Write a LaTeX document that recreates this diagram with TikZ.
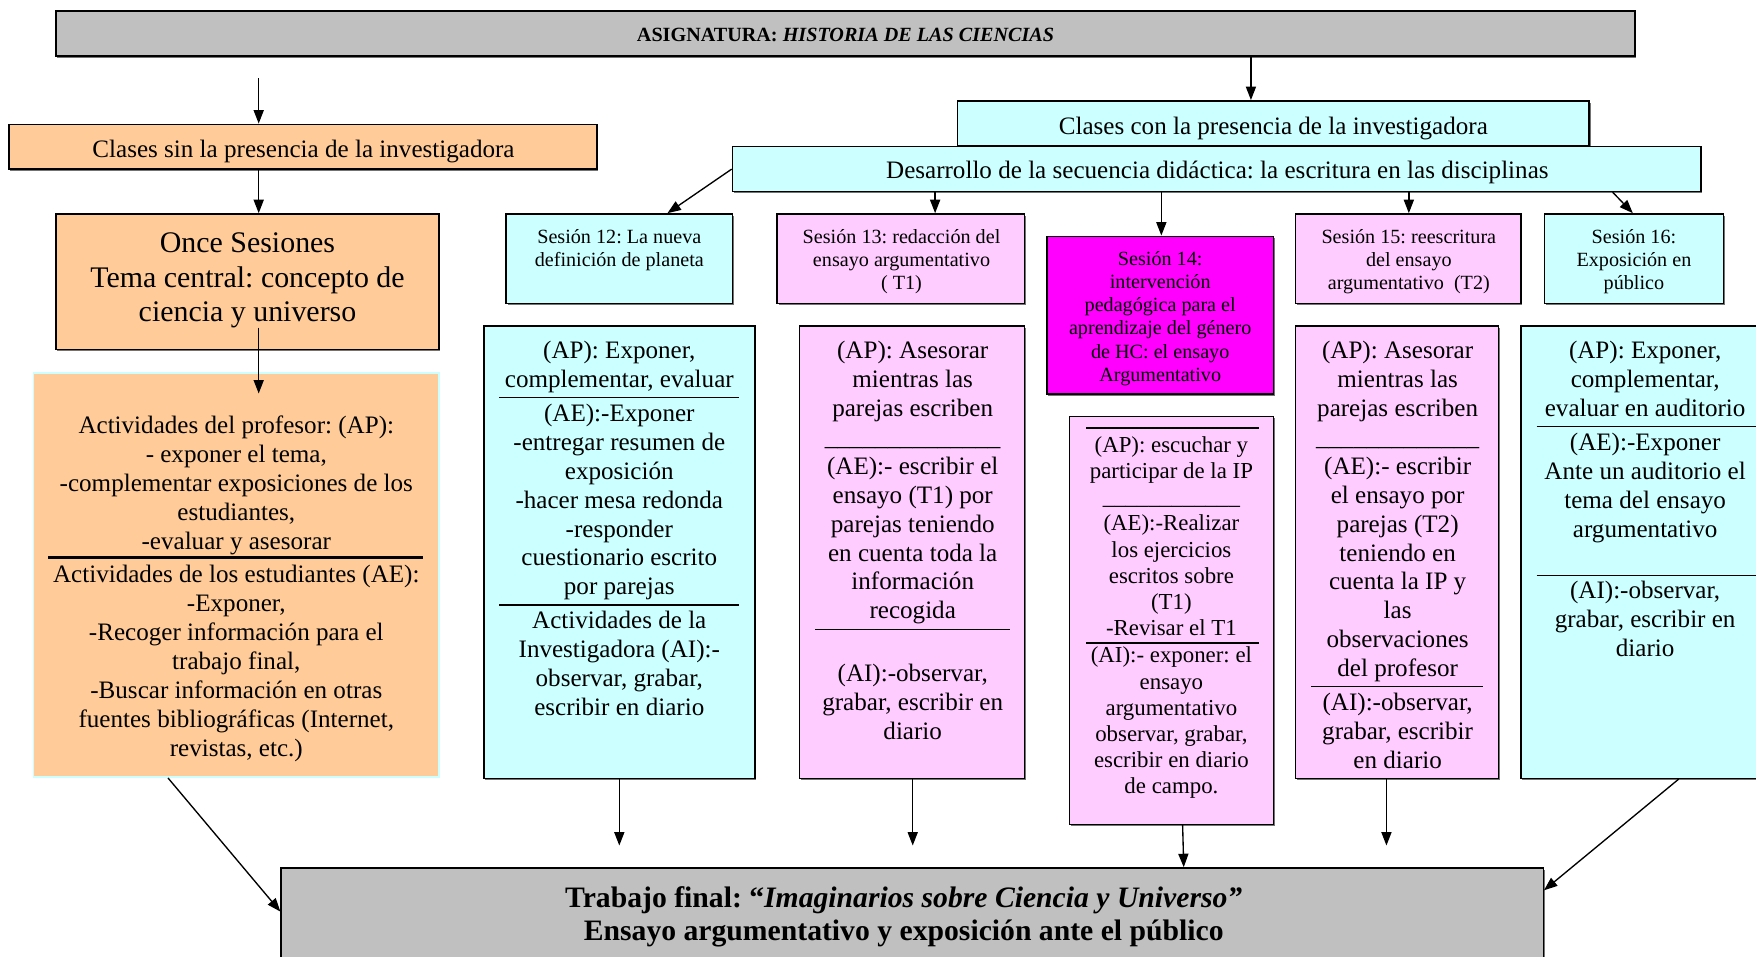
\documentclass[tikz,border=0pt]{standalone}
\usepackage{fontspec}
\setmainfont{Liberation Serif}
\usetikzlibrary{arrows.meta,calc,shadows}
\frenchspacing

\definecolor{peach}{HTML}{FFCC99}
\definecolor{lcyan}{HTML}{CCFFFF}
\definecolor{lpink}{HTML}{FFCCFF}
\definecolor{magen}{HTML}{FF00FF}
\definecolor{lgray}{HTML}{C0C0C0}

% font sizes used in the chart
\newcommand{\fbody}{\fontsize{22.4}{25.8}\selectfont}
\newcommand{\fsmall}{\fontsize{18}{20.6}\selectfont}
\newcommand{\fmid}{\fontsize{20.4}{23.4}\selectfont}
\newcommand{\fbig}{\fontsize{26.7}{31}\selectfont}
\newcommand{\ffinal}{\bfseries\fontsize{26.5}{30}\selectfont}
\newcommand{\ftitle}{\bfseries\fontsize{18}{21}\selectfont}

% rectangle node given by its two corners: style, name, x1, y1, x2, y2
\newcommand{\boxnode}[6]{%
  \pgfmathsetmacro\bxW{#5-#3}%
  \pgfmathsetmacro\bxH{#6-#4}%
  \pgfmathsetmacro\bxX{(#3+#5)/2}%
  \pgfmathsetmacro\bxY{(#4+#6)/2}%
  \node[#1, minimum width=\bxW pt, minimum height=\bxH pt] (#2) at (\bxX,\bxY) {};}

\newcommand{\uline}[1]{\foreach \i in {1,...,#1}{\_}}

\begin{document}
\begin{tikzpicture}[x=1pt,y=-1pt,
  box/.style={draw=black, line width=1.3pt, inner sep=0pt,
    drop shadow={shadow xshift=1.2pt, shadow yshift=-1.6pt, fill=black!55, opacity=1}},
  plainbox/.style={draw=lcyan, line width=1.3pt, inner sep=0pt},
  txt/.style={anchor=north, align=center, inner sep=0pt, yshift=-2pt},
  rule/.style={line width=1.4pt},
  arr/.style={line width=1.2pt, -{Triangle[length=12pt,width=9pt]}}]

\useasboundingbox (0,0) rectangle (1568,854);

% ---- header boxes ----
\boxnode{box, fill=lgray}{title}{50}{10}{1460}{50}
\node[font=\ftitle, inner sep=0pt] (titletxt) at (755,31) {ASIGNATURA: \textit{HISTORIA DE LAS CIENCIAS}};

\boxnode{box, fill=peach}{clsin}{8}{111}{533}{151}
\node[txt, font=\fbody] (clsintxt) at (271,120) {\strut Clases sin la presencia de la investigadora};

\boxnode{box, fill=lcyan}{clcon}{855}{90}{1419}{130}
\node[txt, font=\fbody] (clcontxt) at (1137,100) {\strut Clases con la presencia de la investigadora};

\boxnode{box, fill=lcyan}{desa}{654}{131}{1519}{171}
\node[txt, font=\fbody] (desatxt) at (1087,139) {\strut Desarrollo de la secuencia didáctica: la escritura en las disciplinas};

% ---- left column ----
\boxnode{box, fill=peach}{once}{50}{191}{392}{312}
\node[txt, font=\fbig] (oncetxt) at (221,201.5) {\strut Once Sesiones\\Tema central: concepto de\\ciencia y universo};

\boxnode{plainbox, fill=peach}{act}{30}{333}{392}{694}
\node[txt, font=\fbody] (actap) at (211,367) {\strut Actividades del profesor: (AP):\\- exponer el tema,\\ -complementar exposiciones de los\\estudiantes,\\-evaluar y asesorar};
\draw[line width=3pt] (43,498) -- (378,498);
\node[txt, font=\fbody] (actae) at (211,500) {\strut Actividades de los estudiantes (AE):\\-Exponer,\\-Recoger información para el\\trabajo final,\\-Buscar información en otras\\fuentes bibliográficas (Internet,\\revistas, etc.)};

% ---- session headers ----
\boxnode{box, fill=lcyan}{s12}{452}{191}{654}{271}
\node[txt, font=\fsmall] (s12txt) at (553,200.7) {\strut Sesión 12: La nueva\\definición de planeta};

\boxnode{box, fill=lpink}{s13}{694}{191}{915}{271}
\node[txt, font=\fsmall] (s13txt) at (805,200.7) {\strut Sesión 13: redacción del\\ensayo argumentativo\\( T1)};

\boxnode{box, fill=magen}{s14}{935}{211}{1137}{352}
\node[txt, font=\fsmall] (s14txt) at (1036,220.7) {\strut Sesión 14:\\intervención\\pedagógica para el\\aprendizaje del género\\de HC: el ensayo\\Argumentativo};

\boxnode{box, fill=lpink}{s15}{1157}{191}{1358}{271}
\node[txt, font=\fsmall] (s15txt) at (1258,200.7) {\strut Sesión 15: reescritura\\del ensayo\\argumentativo~~(T2)};

\boxnode{box, fill=lcyan}{s16}{1379}{191}{1539}{271}
\node[txt, font=\fsmall] (s16txt) at (1459,200.7) {\strut Sesión 16:\\Exposición en\\público};

% ---- session activities ----
\boxnode{box, fill=lcyan}{a12}{432}{291}{674}{695}
\node[txt, font=\fbody] (a12ap) at (553,300.1) {\strut (AP): Exponer,\\complementar, evaluar};
\draw[rule] (446,355) -- (660,355);
\node[txt, font=\fbody] (a12ae) at (553,356.1) {\strut (AE):-Exponer\\-entregar resumen de\\exposición\\-hacer mesa redonda\\-responder\\cuestionario escrito\\por parejas};
\draw[rule] (446,540) -- (660,540);
\node[txt, font=\fbody] (a12ai) at (553,541.1) {\strut Actividades de la\\Investigadora (AI):-\\observar, grabar,\\escribir en diario};

\boxnode{box, fill=lpink}{a13}{714}{291}{915}{695}
\node[txt, font=\fbody] (a13ap) at (815,300.1) {\strut (AP): Asesorar\\mientras las\\parejas escriben\\\uline{14}\\(AE):- escribir el\\ensayo (T1) por\\parejas teniendo\\en cuenta toda la\\información\\recogida};
\draw[rule] (728,562) -- (902,562);
\node[txt, font=\fbody] (a13ai) at (815,588.1) {\strut (AI):-observar,\\grabar, escribir en\\diario};

\boxnode{box, fill=lpink}{a14}{955}{372}{1137}{736}
\draw[rule] (970,382) -- (1124,382);
\node[txt, font=\fmid] (a14ap) at (1046,385.3) {\strut (AP): escuchar y\\participar de la IP\\\uline{12}\\(AE):-Realizar\\los ejercicios\\escritos sobre\\(T1)\\-Revisar el T1};
\draw[rule] (970,574) -- (1124,574);
\node[txt, font=\fmid] (a14ai) at (1046,573.3) {\strut (AI):- exponer: el\\ensayo\\argumentativo\\observar, grabar,\\escribir en diario\\de campo.};

\boxnode{box, fill=lpink}{a15}{1157}{291}{1338}{695}
\node[txt, font=\fbody] (a15ap) at (1248,300.1) {\strut (AP): Asesorar\\mientras las\\parejas escriben\\\uline{13}\\(AE):- escribir\\el ensayo por\\parejas (T2)\\teniendo en\\cuenta la IP y\\las\\observaciones\\del profesor};
\draw[rule] (1171,613) -- (1324,613);
\node[txt, font=\fbody] (a15ai) at (1248,614.1) {\strut (AI):-observar,\\grabar, escribir\\en diario};

\boxnode{box, fill=lcyan}{a16}{1358}{291}{1580}{695}
\node[txt, font=\fbody] (a16ap) at (1469,300.1) {\strut (AP): Exponer,\\complementar,\\evaluar en auditorio};
\draw[rule] (1372,381) -- (1580,381);
\node[txt, font=\fbody] (a16ae) at (1469,382.1) {\strut (AE):-Exponer\\Ante un auditorio el\\tema del ensayo\\argumentativo};
\draw[rule] (1372,514) -- (1580,514);
\node[txt, font=\fbody] (a16ai) at (1469,514.1) {\strut (AI):-observar,\\grabar, escribir en\\diario};

% ---- final work ----
\boxnode{box, fill=lgray}{final}{251}{775}{1378}{880}
\node[txt, font=\ffinal] (finaltxt) at (807,787) {\strut Trabajo final: “\textit{Imaginarios sobre Ciencia y Universo”}\\Ensayo argumentativo y exposición ante el público};

% ---- connectors ----
\coordinate (startsin) at (231,70);
\draw[arr] (startsin) -- (startsin |- clsin.north);
\draw[arr] (title.south -| 1117,0) -- (clcon.north -| 1117,0);
\draw[arr] (clsin.south -| 231,0) -- (once.north -| 231,0);
\draw[arr] ($(once.south)+(10,-20)$) -- ($(act.north)+(20,19)$);

\draw[arr] (desa.west) -- (s12.north -| 596,0);
\draw[arr] (desa.south -| 835,0) -- (s13.north -| 835,0);
\draw[arr] (desa.south -| 1037,0) -- (s14.north -| 1037,0);
\draw[arr] (desa.south -| 1258,0) -- (s15.north -| 1258,0);
\draw[arr] (desa.south -| 1440,0) -- (s16.north -| 1458,0);

\coordinate (end12) at (553,755);
\coordinate (end13) at (815,755);
\coordinate (end15) at (1238,755);
\draw[arr] (act.south -| 150,0) -- (final.west |- 0,814);
\draw[arr] (a12.south -| end12) -- (end12);
\draw[arr] (a13.south -| end13) -- (end13);
\draw[arr] (a14.south -| 1056,0) -- (final.north -| 1057,0);
\draw[arr] (a15.south -| end15) -- (end15);
\draw[arr] (a16.south -| 1499,0) -- (final.east |- 0,795);
\end{tikzpicture}
\end{document}
